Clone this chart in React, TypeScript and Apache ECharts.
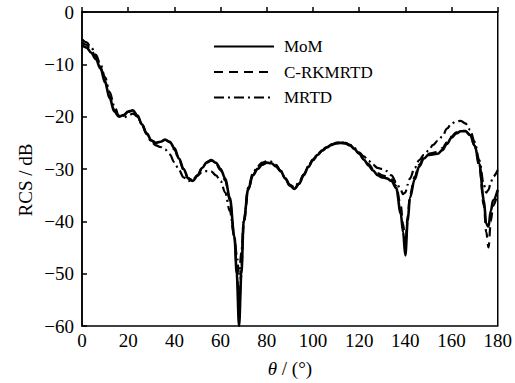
import React, { useEffect, useRef } from "react";
import * as echarts from "echarts";

const theta = [
  0, 2, 4, 6, 8, 10, 12, 14, 16, 18, 20, 22, 24, 26, 28, 30, 32, 34, 36, 38, 40, 42, 44, 46, 48, 50,
  52, 54, 56, 58, 60, 62, 64, 66, 67, 68, 69, 70, 72, 74, 76, 78, 80, 82, 84, 86, 88, 90, 92, 94, 96,
  98, 100, 102, 104, 106, 108, 110, 112, 114, 116, 118, 120, 122, 124, 126, 128, 130, 132, 134, 136,
  138, 139, 140, 141, 142, 144, 146, 148, 150, 152, 154, 156, 158, 160, 162, 164, 166, 168, 170, 172,
  174, 175, 176, 177, 178, 180,
];

const mom = [
  -6.3, -6.8, -7.8, -9.0, -10.8, -13.5, -16.5, -19.0, -20.0, -19.7, -19.0, -18.8, -19.8, -21.5, -23.2,
  -24.5, -25.0, -24.8, -24.4, -24.8, -26.0, -28.0, -30.0, -31.8, -32.3, -31.3, -29.8, -28.7, -28.3,
  -28.8, -30.0, -31.8, -35.5, -43, -50, -60, -50, -40, -33.8, -31.2, -30.0, -29.2, -28.8, -28.9, -29.5,
  -30.4, -31.8, -33.2, -33.8, -32.8, -31.2, -29.6, -28.3, -27.3, -26.5, -25.9, -25.4, -25.1, -25.0,
  -25.1, -25.5, -26.2, -27.1, -28.2, -29.3, -30.3, -31.2, -31.6, -31.8, -32.3, -33.6, -38.5, -42,
  -46.5, -40, -35.5, -32, -29.5, -28, -27.3, -27.2, -27.1, -26.4, -25.2, -24.0, -23.2, -22.8, -22.8,
  -23.5, -25.5, -29, -36, -40.5, -41, -38, -36, -34,
];

const crkmrtd = [
  -5.8, -6.3, -7.3, -8.6, -10.5, -13.2, -16.2, -18.8, -20.0, -19.8, -19.1, -18.9, -19.9, -21.6, -23.3,
  -24.6, -25.1, -24.8, -24.4, -24.9, -26.3, -28.2, -30.2, -31.8, -32.2, -31.2, -29.8, -28.8, -28.4,
  -29.0, -30.2, -32.2, -36, -43, -49, -57, -49, -40.5, -34, -31.2, -29.9, -29.1, -28.8, -28.9, -29.4,
  -30.4, -31.8, -33.2, -33.8, -32.8, -31.0, -29.5, -28.2, -27.2, -26.4, -25.8, -25.3, -25.0, -24.9,
  -25.0, -25.4, -26.1, -27.0, -28.0, -29.0, -30.0, -30.8, -31.2, -31.5, -32.0, -33.2, -37, -40.5,
  -44.5, -39, -35, -31.5, -29.2, -27.8, -27.1, -26.9, -26.7, -26.0, -24.9, -23.8, -23.0, -22.6, -22.7,
  -23.5, -25.6, -29.5, -37, -42, -45, -40, -37, -34.5,
];

const mrtd = [
  -5.2, -5.8, -6.8, -8.2, -10.0, -12.5, -15.3, -18.0, -19.8, -20.2, -19.8, -19.4, -20.0, -21.5, -23.3,
  -24.8, -25.5, -25.8, -26.3, -27.2, -28.7, -30.2, -31.6, -32.3, -32.0, -31.2, -30.6, -30.4, -30.5,
  -31.2, -32.3, -34.5, -38, -43, -46.5, -50, -46, -40, -33.5, -30.8, -29.5, -28.8, -28.5, -28.6, -29.2,
  -30.3, -31.8, -33.0, -33.5, -32.5, -31.0, -29.5, -28.2, -27.2, -26.4, -25.8, -25.3, -25.0, -24.9,
  -25.0, -25.4, -26.0, -26.8, -27.6, -28.4, -29.2, -29.8, -30.0, -30.4, -31.2, -32.5, -34, -34.8,
  -34.5, -33, -31.8, -29.8, -28.3, -27.3, -26.5, -25.4, -24.6, -23.8, -22.3, -21.3, -20.9, -20.8,
  -21.3, -22.5, -24.8, -28.3, -33, -34.5, -34, -32.5, -31.5, -30.2,
];

const seriesNames = ["MoM", "C-RKMRTD", "MRTD"];
const FONT = "Liberation Serif";

const pairs = (ys: number[]) => theta.map((t, i) => [t, ys[i]]);
const minus = (v: number) => String(v).replace("-", "\u2212");

export default function App() {
  const ref = useRef<HTMLDivElement>(null);
  useEffect(() => {
    if (!ref.current) return;
    const chart = echarts.init(ref.current, undefined, { renderer: "svg" });
    const base = {
      type: "line" as const,
      showSymbol: false,
      symbol: "none",
      smooth: 0.35,
      smoothMonotone: "x" as const,
      color: "#000",
    };
    chart.setOption({
      animation: false,
      backgroundColor: "#fff",
      textStyle: { fontFamily: FONT, color: "#000" },
      grid: {
        left: 82,
        right: 17,
        top: 12,
        bottom: 57,
        show: true,
        borderColor: "#000",
        borderWidth: 1.5,
      },
      legend: {
        orient: "vertical",
        left: 213,
        top: 38,
        padding: 0,
        itemWidth: 60,
        itemHeight: 20,
        itemGap: 8.5,
        data: seriesNames,
        itemStyle: { opacity: 0 },
        textStyle: { fontFamily: FONT, fontSize: 17, color: "#000", padding: [0, 0, 0, 5] },
      },
      xAxis: {
        type: "value",
        min: 0,
        max: 180,
        interval: 20,
        axisLine: { lineStyle: { color: "#000", width: 1.5 } },
        axisTick: { inside: true, length: 5, lineStyle: { color: "#000", width: 1.5 } },
        axisLabel: { fontFamily: FONT, fontSize: 19, color: "#000", margin: 5 },
        splitLine: { show: false },
        name: "{i|θ}{n| / (°)}",
        nameLocation: "middle",
        nameGap: 33,
        nameTextStyle: {
          rich: {
            i: { fontFamily: FONT, fontSize: 19, fontStyle: "italic", color: "#000" },
            n: { fontFamily: FONT, fontSize: 19, color: "#000" },
          },
        },
      },
      yAxis: {
        type: "value",
        min: -60,
        max: 0,
        interval: 10,
        axisLine: { show: true, lineStyle: { color: "#000", width: 1.5 } },
        axisTick: { show: true, inside: true, length: 5, lineStyle: { color: "#000", width: 1.5 } },
        axisLabel: { fontFamily: FONT, fontSize: 19, color: "#000", margin: 8, formatter: minus },
        splitLine: { show: false },
      },
      graphic: [
        {
          type: "text",
          x: 25,
          y: 180,
          rotation: Math.PI / 2,
          style: {
            text: "RCS / dB",
            fontFamily: FONT,
            fontSize: 19,
            fill: "#000",
            align: "center",
            verticalAlign: "middle",
          },
        },
      ],
      series: [
        { ...base, name: seriesNames[0], data: pairs(mom), lineStyle: { color: "#000", width: 2.6, type: "solid" }, z: 3 },
        { ...base, name: seriesNames[1], data: pairs(crkmrtd), lineStyle: { color: "#000", width: 2.2, type: [9, 6] }, z: 2 },
        { ...base, name: seriesNames[2], data: pairs(mrtd), lineStyle: { color: "#000", width: 2.2, type: [10, 4, 2, 4] }, z: 1 },
      ],
    });
    return () => chart.dispose();
  }, []);
  return (
    <div
      ref={ref}
      style={{ position: "fixed", left: 0, top: 0, width: 515, height: 383, background: "#fff" }}
    />
  );
}
